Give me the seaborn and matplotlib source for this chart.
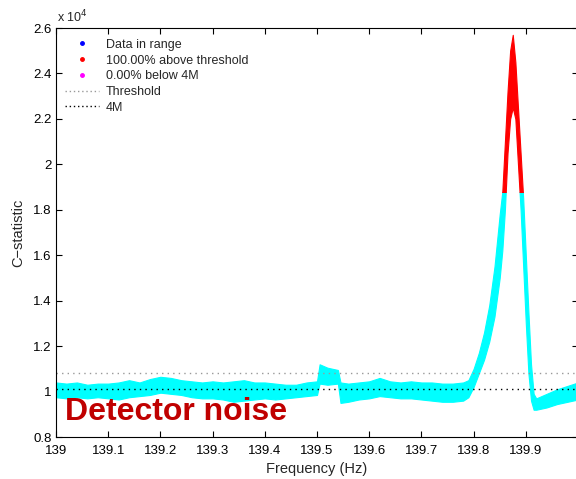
import numpy as np
import pandas as pd
import seaborn as sns
import matplotlib
matplotlib.use("Agg")
import matplotlib.pyplot as plt
from matplotlib.lines import Line2D
from matplotlib.patches import Rectangle

# ---- data (C-statistic in units of 1e4) ----
freq = [139.00, 139.02, 139.04, 139.06, 139.08, 139.10, 139.12, 139.14, 139.16, 139.18,
        139.20, 139.22, 139.24, 139.26, 139.28, 139.30, 139.32, 139.34, 139.36, 139.38,
        139.40, 139.42, 139.44, 139.46, 139.48, 139.50, 139.505, 139.52, 139.54, 139.545,
        139.56, 139.58, 139.60, 139.62, 139.64, 139.66, 139.68, 139.70, 139.72, 139.74,
        139.76, 139.78, 139.79, 139.80, 139.81, 139.82, 139.83, 139.84, 139.85, 139.855,
        139.86, 139.865, 139.87, 139.875, 139.88, 139.885, 139.89, 139.895, 139.90, 139.905,
        139.91, 139.915, 139.92, 139.94, 139.96, 139.98, 140.00]
upper = [1.040, 1.035, 1.040, 1.030, 1.035, 1.035, 1.040, 1.050, 1.040, 1.055,
         1.065, 1.060, 1.050, 1.045, 1.040, 1.045, 1.040, 1.045, 1.050, 1.040,
         1.040, 1.035, 1.030, 1.030, 1.040, 1.045, 1.120, 1.105, 1.095, 1.040,
         1.035, 1.040, 1.045, 1.060, 1.045, 1.040, 1.045, 1.040, 1.040, 1.035,
         1.035, 1.040, 1.050, 1.100, 1.170, 1.260, 1.380, 1.550, 1.780, 1.880,
         2.100, 2.320, 2.500, 2.570, 2.450, 2.250, 2.050, 1.850, 1.600, 1.350,
         1.120, 0.990, 0.970, 0.990, 1.010, 1.025, 1.040]
lower = [0.975, 0.970, 0.975, 0.970, 0.975, 0.970, 0.965, 0.975, 0.980, 0.985,
         0.995, 0.990, 0.985, 0.975, 0.970, 0.970, 0.965, 0.955, 0.960, 0.965,
         0.970, 0.965, 0.970, 0.975, 0.980, 0.985, 1.035, 1.030, 1.035, 0.950,
         0.955, 0.965, 0.970, 0.980, 0.975, 0.970, 0.970, 0.965, 0.960, 0.955,
         0.955, 0.960, 0.975, 1.020, 1.080, 1.140, 1.220, 1.330, 1.500, 1.620,
         1.800, 2.050, 2.200, 2.250, 2.200, 2.000, 1.800, 1.550, 1.300, 1.080,
         0.960, 0.920, 0.920, 0.930, 0.945, 0.955, 0.965]
threshold = 1.08
level_4m = 1.01
red_cut = 1.88

xticks = [139, 139.1, 139.2, 139.3, 139.4, 139.5, 139.6, 139.7, 139.8, 139.9]
xticklabels = ["139", "139.1", "139.2", "139.3", "139.4", "139.5", "139.6", "139.7", "139.8", "139.9"]
yticks = [0.8, 1.0, 1.2, 1.4, 1.6, 1.8, 2.0, 2.2, 2.4, 2.6]
yticklabels = ["0.8", "1", "1.2", "1.4", "1.6", "1.8", "2", "2.2", "2.4", "2.6"]
legend_labels = ["Data in range", "100.00% above threshold", "0.00% below 4M", "Threshold", "4M"]

df = pd.DataFrame({"freq": freq, "upper": upper, "lower": lower})

sns.set_theme(style="ticks")
plt.rcParams["font.family"] = ["Liberation Sans", "DejaVu Sans"]

fig = plt.figure(figsize=(5.76, 4.79), dpi=100)
ax = fig.add_axes([56 / 576, 42 / 479, 522 / 576, 409 / 479])

for color, y0, h in [("#00ffff", 0.0, red_cut), ("#ff0000", red_cut, 5.0)]:
    clip = Rectangle((138.0, y0), 4.0, h, transform=ax.transData)
    poly = ax.fill_between(df["freq"], df["lower"], df["upper"], color=color,
                           linewidth=0.8, edgecolor=color)
    poly.set_clip_path(clip)

ax.axhline(threshold, color="#999999", linestyle=(0, (1, 3)), linewidth=1.0)
ax.axhline(level_4m, color="black", linestyle=(0, (1, 3)), linewidth=1.0)

ax.set_xlim(139, 140)
ax.set_ylim(0.8, 2.6)
ax.set_xticks(xticks)
ax.set_xticklabels(xticklabels)
ax.set_yticks(yticks)
ax.set_yticklabels(yticklabels)
ax.tick_params(axis="both", direction="in", top=True, right=True, labelsize=9.5, length=4,
               width=0.8, colors="black")
ax.tick_params(axis="x", pad=6)
ax.tick_params(axis="y", pad=3)
for s in ax.spines.values():
    s.set_linewidth(0.8)
    s.set_color("black")

ax.set_xlabel("Frequency (Hz)", fontsize=10.5, labelpad=3)
ax.set_ylabel("C\u2212statistic", fontsize=10.5, labelpad=6)

fig.text(57 / 576, 1 - 17 / 479, "x 10$^{4}$", fontsize=9, va="center", ha="left")

handles = [
    Line2D([], [], marker=".", color="blue", linestyle="none", markersize=5),
    Line2D([], [], marker=".", color="red", linestyle="none", markersize=5),
    Line2D([], [], marker=".", color="magenta", linestyle="none", markersize=5),
    Line2D([], [], color="#999999", linestyle=(0, (1, 2)), linewidth=1.0),
    Line2D([], [], color="black", linestyle=(0, (1, 2)), linewidth=1.0),
]
ax.legend(handles, legend_labels, loc="upper left", bbox_to_anchor=(0.0, 0.995),
          frameon=False, fontsize=9, handlelength=2.7, handletextpad=0.6,
          labelspacing=0.3, borderaxespad=0.3)

fig.text(65 / 576, 1 - 412 / 479, "Detector noise", fontsize=23, fontweight="bold",
         color="#c00000", va="center", ha="left")

fig.savefig("out.png", dpi=100)
